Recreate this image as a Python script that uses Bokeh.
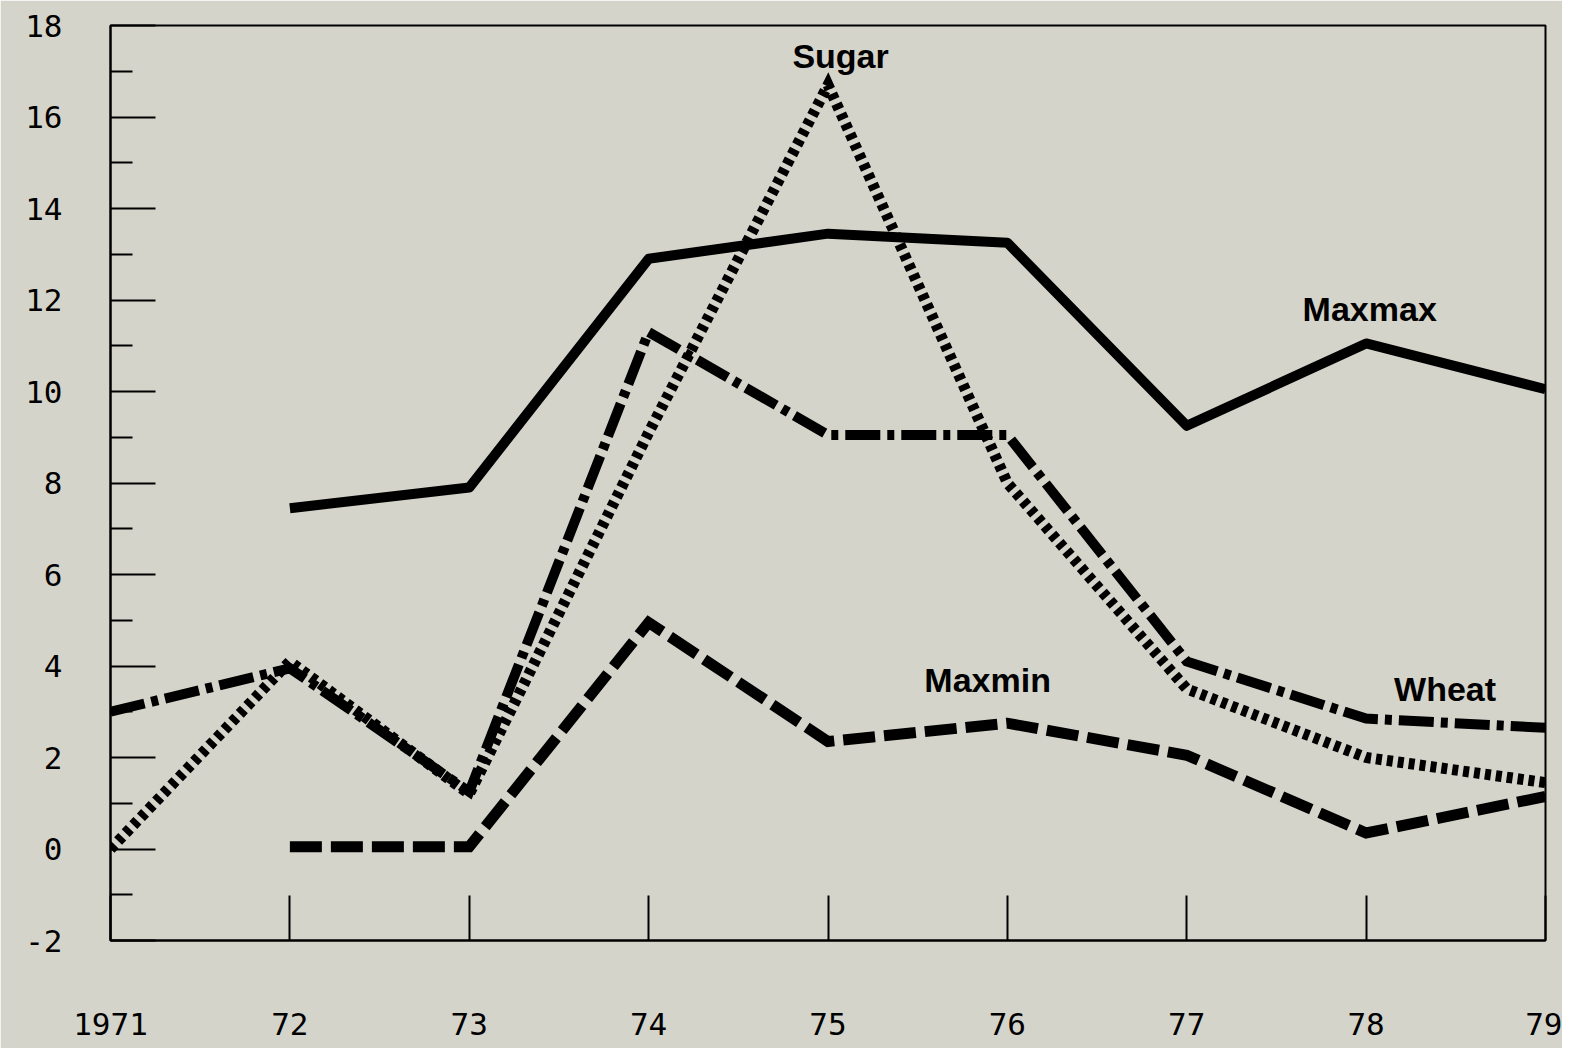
import numpy as np
from bokeh.plotting import figure
from bokeh.models import FixedTicker, Range1d
from bokeh.core.properties import value
from bokeh.embed import file_html
from bokeh.resources import INLINE

# ---- data ----
years = [1971, 1972, 1973, 1974, 1975, 1976, 1977, 1978, 1979]
year_labels = ["1971", "72", "73", "74", "75", "76", "77", "78", "79"]
maxmax = [np.nan, 7.45, 7.9, 12.9, 13.45, 13.25, 9.25, 11.05, 10.05]
sugar = [0.0, 4.1, 1.2, 9.1, 16.7, 8.0, 3.5, 2.0, 1.45]
wheat = [3.0, 3.95, 1.25, 11.3, 9.05, 9.05, 4.1, 2.85, 2.65]
maxmin = [np.nan, 0.05, 0.05, 4.95, 2.35, 2.75, 2.05, 0.35, 1.15]
y_major = [-2, 0, 2, 4, 6, 8, 10, 12, 14, 16, 18]
y_minor = [-1, 1, 3, 5, 7, 9, 11, 13, 15, 17]
y_labels = {v: ("-2" if v == -2 else str(v)) for v in y_major}

series_names = ["Sugar", "Maxmax", "Maxmin", "Wheat"]
label_x = [1975.07, 1978.02, 1975.89, 1978.44]
label_y = [17.34, 11.81, 3.70, 3.49]

BG = "#d5d4ca"

p = figure(width=1562, height=1048, output_backend="svg", toolbar_location=None,
           x_range=Range1d(1971, 1979), y_range=Range1d(-2, 18),
           min_border_left=110, min_border_right=17, min_border_top=25,
           min_border_bottom=108)
p.background_fill_color = BG
p.border_fill_color = BG
p.outline_line_color = "black"
p.outline_line_width = 2
p.xgrid.visible = False
p.ygrid.visible = False

# axes
p.xaxis.ticker = FixedTicker(ticks=years, minor_ticks=[])
p.xaxis.major_label_overrides = {y: l for y, l in zip(years, year_labels)}
p.xaxis.major_tick_in = 45
p.xaxis.major_tick_out = 0
p.xaxis.major_label_standoff = 72
p.yaxis.ticker = FixedTicker(ticks=y_major, minor_ticks=y_minor)
p.yaxis.major_label_overrides = y_labels
p.yaxis.major_tick_in = 45
p.yaxis.major_tick_out = 0
p.yaxis.minor_tick_in = 22
p.yaxis.minor_tick_out = 0
p.yaxis.major_label_standoff = 48
for ax in (p.xaxis, p.yaxis):
    ax.axis_line_color = "black"
    ax.axis_line_width = 2
    ax.major_tick_line_color = "black"
    ax.major_tick_line_width = 2
    ax.minor_tick_line_color = "black"
    ax.minor_tick_line_width = 2
    ax.major_label_text_font = "DejaVu Sans Mono"
    ax.major_label_text_font_size = "31px"
    ax.major_label_text_color = "black"

# series
p.line([y for y, v in zip(years, maxmin) if not np.isnan(v)],
       [v for v in maxmin if not np.isnan(v)],
       line_color="black", line_width=11, line_dash="32 9", line_join="miter")
p.line(years, wheat, line_color="black", line_width=10, line_dash="35 7 7 7",
       line_join="miter")
p.line(years, sugar, line_color="black", line_width=11, line_dash="6 5",
       line_join="miter")
p.line([y for y, v in zip(years, maxmax) if not np.isnan(v)],
       [v for v in maxmax if not np.isnan(v)],
       line_color="black", line_width=10, line_join="round")

# series labels
p.text(x=label_x, y=label_y, text=series_names, text_align="center",
       text_baseline="middle", text_font=value("Liberation Sans"),
       text_font_style="bold", text_font_size="34px", text_color="black")

open("out.html", "w").write(file_html(p, INLINE))
